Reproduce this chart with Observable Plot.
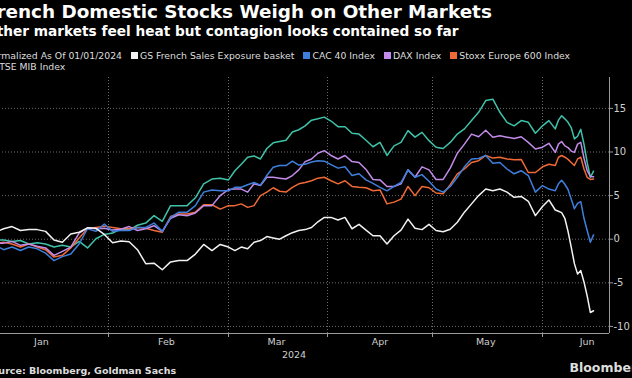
<!DOCTYPE html>
<html><head><meta charset="utf-8">
<script src="https://cdn.jsdelivr.net/npm/d3@7"></script>
<script src="https://cdn.jsdelivr.net/npm/@observablehq/plot@0.6"></script>
<style>
html,body{margin:0;padding:0;background:#000;width:632px;height:378px;overflow:hidden;}
#wrap{position:absolute;left:-22px;top:0;width:660px;height:378px;font-family:"DejaVu Sans",sans-serif;color:#fff;}
.t{position:absolute;white-space:nowrap;line-height:1;}
#title{left:7px;top:3px;font-weight:bold;font-size:18.4px;}
#subtitle{left:7px;top:25px;font-weight:bold;font-size:13.7px;}
.legend{left:7px;font-size:9.3px;color:#ddd;display:flex;align-items:center;}
.sw{display:inline-block;width:7px;height:7px;margin-right:2px;}
.item{display:inline-flex;align-items:center;margin-left:9px;}
#source{left:7px;top:366px;font-weight:bold;font-size:9.5px;color:#ddd;}
#brand{right:-8px;top:362px;font-weight:bold;font-size:12.5px;color:#ddd;}
#chart{position:absolute;left:0;top:72px;}
</style></head>
<body>
<div id="wrap">
  <div class="t" id="title">French Domestic Stocks Weigh on Other Markets</div>
  <div class="t" id="subtitle">Other markets feel heat but contagion looks contained so far</div>
  <div class="t legend" id="leg1" style="top:50.6px"></div>
  <div class="t legend" id="leg2" style="top:62px"></div>
  <div id="chart"></div>
  <div class="t" id="source">Source: Bloomberg, Goldman Sachs</div>
  <div class="t" id="brand">Bloomberg</div>
</div>
<script>
const dates = [
"2024-01-01","2024-01-03","2024-01-05","2024-01-07","2024-01-09","2024-01-11","2024-01-13","2024-01-15","2024-01-17","2024-01-19","2024-01-21","2024-01-23","2024-01-25","2024-01-27","2024-01-29","2024-01-31",
"2024-02-02","2024-02-04","2024-02-06","2024-02-08","2024-02-10","2024-02-12","2024-02-14","2024-02-16","2024-02-18","2024-02-20","2024-02-22","2024-02-24","2024-02-26","2024-02-28",
"2024-03-01","2024-03-03","2024-03-05","2024-03-07","2024-03-09","2024-03-11","2024-03-13","2024-03-15","2024-03-17","2024-03-19","2024-03-21","2024-03-23","2024-03-25","2024-03-27","2024-03-29","2024-03-31",
"2024-04-02","2024-04-04","2024-04-06","2024-04-08","2024-04-10","2024-04-12","2024-04-14","2024-04-16","2024-04-18","2024-04-20","2024-04-22","2024-04-24","2024-04-26","2024-04-28","2024-04-30",
"2024-05-02","2024-05-04","2024-05-06","2024-05-08","2024-05-10","2024-05-12","2024-05-14","2024-05-16","2024-05-18","2024-05-20","2024-05-22","2024-05-24","2024-05-26","2024-05-28","2024-05-30",
"2024-06-01","2024-06-03","2024-06-05","2024-06-06","2024-06-07","2024-06-08","2024-06-09","2024-06-10","2024-06-11","2024-06-12","2024-06-13","2024-06-14","2024-06-15","2024-06-16","2024-06-17"];

const gsFrench = [0,0.5,0.8,1.2,1.45,1.0,1.1,1.1,0.9,-0.1,-0.35,0.6,0.8,1.3,1.25,0.55,
-0.4,-0.2,-0.3,-1.2,-2.8,-2.75,-3.5,-2.6,-2.45,-2.45,-1.7,-0.6,-1.3,-0.6,
-0.9,-1.3,-0.9,-1.1,-0.35,-0.15,0.3,0.15,0.0,0.4,0.75,1.0,1.1,1.35,2.0,2.5,
2.5,2.2,2.5,1.2,1.7,1.05,0.4,0.4,-0.55,0.4,1.05,2.3,1.25,1.1,1.7,
1.0,0.85,1.15,1.95,3.1,4.05,5.0,5.75,5.55,5.75,5.4,4.8,4.9,4.35,2.7,
3.75,4.5,3.35,3.2,3.05,2.4,0.9,-0.9,-2.8,-4.0,-3.6,-4.9,-6.5,-8.4,-8.2];

const cac40 = [0,-0.3,-0.7,-1.2,-0.9,-1.3,-0.9,-1.1,-1.6,-2.45,-2.0,-1.7,-0.55,1.2,0.9,1.75,
0.9,1.0,1.0,1.35,1.35,1.85,0.9,2.5,3.1,3.1,3.85,5.4,5.65,5.55,
5.55,5.95,5.95,6.25,6.5,6.2,7.3,8.25,8.45,8.45,8.95,8.5,8.6,8.85,9.0,8.95,
8.55,8.15,8.3,7.3,7.5,6.8,6.4,5.95,5.55,6.05,6.5,7.95,7.1,7.4,6.65,
5.75,5.4,6.05,7.1,8.3,9.2,9.25,9.6,8.7,8.8,8.05,7.5,7.85,7.3,5.4,
6.15,5.75,5.55,6.35,6.75,6.3,5.7,4.6,3.5,4.1,4.3,2.4,1.0,-0.35,0.5];

const dax = [0,-0.2,-0.5,-0.45,-0.25,-0.7,-0.55,-0.8,-1.0,-1.85,-1.4,-0.9,0.7,1.3,1.2,1.25,
1.05,1.15,1.45,1.0,1.2,1.55,0.9,2.4,2.8,2.7,3.0,3.85,3.85,5.0,
5.7,5.75,5.75,5.4,6.35,6.15,7.1,7.1,7.0,6.9,7.3,7.95,8.9,9.2,9.85,10.15,
9.6,9.2,9.6,8.9,8.8,8.0,6.85,6.8,6.05,6.05,6.35,7.95,7.1,8.3,7.95,
6.85,6.85,8.15,9.85,10.9,12.05,11.75,12.5,11.7,11.85,11.7,11.55,11.75,11.1,10.35,
10.55,11.0,9.95,10.9,11.2,10.7,10.5,10.1,9.95,10.9,11.1,9.3,7.85,7.2,7.15];

const stoxx600 = [0,-0.2,-0.5,-0.35,-0.55,-0.9,-0.55,-0.9,-1.2,-2.05,-1.85,-1.0,0.15,1.2,1.35,1.5,
1.35,1.2,1.2,1.35,1.25,1.0,0.8,2.6,2.9,2.9,3.1,3.95,3.95,3.45,
3.85,3.85,4.05,3.65,3.85,5.0,5.4,5.9,5.5,5.4,5.95,6.35,6.5,6.7,7.0,7.1,
6.7,6.35,6.7,6.05,5.95,5.9,5.55,5.65,4.05,4.25,4.6,6.05,5.0,6.05,5.9,
5.3,5.2,6.25,7.5,8.05,8.8,9.0,9.6,9.3,9.4,9.2,9.1,9.15,7.65,7.65,
8.3,8.6,8.45,9.4,9.6,9.4,9.15,8.8,8.45,9.2,9.4,8.05,7.1,6.85,6.9];

const ftseMib = [0,0.2,-0.1,-0.1,-0.25,-0.15,-0.55,-0.4,-0.55,-0.9,-0.7,-0.9,-0.25,-1.0,0.05,0.55,
0.7,1.2,1.05,1.6,1.85,2.7,2.05,3.85,3.85,3.85,4.75,6.35,6.9,7.0,
6.8,7.85,8.6,9.4,9.55,9.2,10.4,11.05,11.2,11.35,12.3,12.55,13.0,13.65,13.8,14.0,
13.55,12.9,12.9,12.15,12.05,11.35,10.6,11.1,9.6,10.7,11.1,12.45,11.7,12.25,11.3,
10.55,10.4,11.1,12.05,12.65,13.6,14.55,15.9,16.05,14.55,13.4,13.0,13.6,13.4,12.15,
13.0,13.6,12.65,13.65,14.15,13.8,13.4,12.8,11.5,11.8,12.6,10.9,8.8,7.1,7.8];

const seriesNames = ["GS French Sales Exposure basket","CAC 40 Index","DAX Index","Stoxx Europe 600 Index","FTSE MIB Index"];
const seriesColors = ["#f2f2f2","#3f7fdc","#c28ce8","#ef6a36","#3fc2aa"];
const seriesValues = [gsFrench, cac40, dax, stoxx600, ftseMib];

const monthStarts = ["2024-02-01","2024-03-01","2024-04-01","2024-05-01","2024-06-01"];
const monthLabelDates = ["2024-01-16","2024-02-15","2024-03-16","2024-04-16","2024-05-16","2024-06-15"];
const yTicks = [-10,-5,0,5,10,15];
const yearLabel = "2024";
const normLabel = "Normalized As Of 01/01/2024";

// legend
const leg1 = document.getElementById("leg1");
leg1.appendChild(document.createTextNode(normLabel));
function item(i){
  const s = document.createElement("span"); s.className = "item";
  const sw = document.createElement("span"); sw.className = "sw"; sw.style.background = seriesColors[i];
  s.appendChild(sw); s.appendChild(document.createTextNode(seriesNames[i]));
  return s;
}
for (let i = 0; i < 4; i++) leg1.appendChild(item(i));
const it5 = item(4); it5.style.marginLeft = "0px";
document.getElementById("leg2").appendChild(it5);

const P = d3.utcParse("%Y-%m-%d");
const rows = [];
seriesNames.forEach((n, k) => dates.forEach((d, i) => rows.push({series: n, date: P(d), value: seriesValues[k][i]})));

const W = 660, H = 300, mR = 29;
const xDomain = [P("2024-01-01"), P("2024-02-01"), P("2024-03-01"), P("2024-04-01"), P("2024-05-01"), P("2024-06-01"), P("2024-06-22")];
const xRange = [0, 130, 250, 349, 454, 564, W - mR];
const yDomain = [-10.81, 18.54];
const grid = {stroke: "#6a6a6a", strokeOpacity: 1, strokeDasharray: "1,2", strokeWidth: 1};

const order = [4, 3, 2, 1, 0];
const chart = Plot.plot({
  width: W, height: H,
  marginLeft: 0, marginRight: mR, marginTop: 5, marginBottom: 39,
  style: {background: "transparent", color: "#cfcfcf", fontFamily: "DejaVu Sans, sans-serif", fontSize: "9.5px"},
  x: {type: "utc", domain: xDomain, range: xRange},
  y: {domain: yDomain},
  marks: [
    Plot.gridY(yTicks, grid),
    Plot.gridX(monthStarts.map(P), grid),
    Plot.ruleY([yDomain[0]], {stroke: "#9a9a9a", strokeWidth: 1}),
    Plot.ruleX([xDomain[xDomain.length - 1]], {stroke: "#9a9a9a", strokeWidth: 1}),
    Plot.axisX(monthStarts.map(P), {tickSize: 4, tickFormat: () => "", stroke: "#9a9a9a", label: null}),
    Plot.axisX(monthLabelDates.map(P), {tickSize: 0, tickPadding: 5, tickFormat: d3.utcFormat("%b"), fill: "#cfcfcf", label: null}),
    Plot.text([yearLabel], {text: d => d, frameAnchor: "bottom", dy: 24, fill: "#cfcfcf", fontSize: 9.5}),
    Plot.axisY(yTicks, {anchor: "right", tickSize: 3, tickPadding: 1, stroke: "#9a9a9a",
      tickFormat: d => d < 0 ? "-" + Math.abs(d) : String(d), fill: "#cfcfcf", fontSize: 10, label: null}),
    ...order.map(k => Plot.line(rows.filter(r => r.series === seriesNames[k]), {x: "date", y: "value", stroke: seriesColors[k], strokeWidth: 1.5}))
  ]
});
document.getElementById("chart").appendChild(chart);
</script>
</body></html>
